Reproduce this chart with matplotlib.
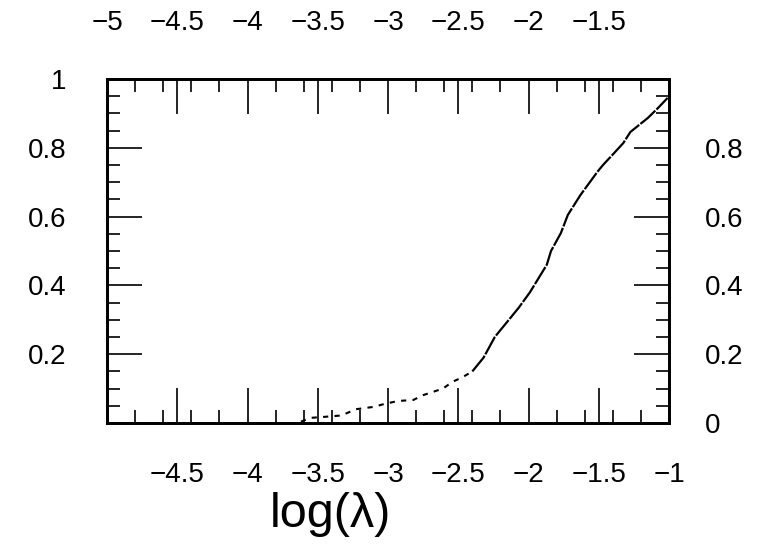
import numpy as np
import matplotlib
matplotlib.use("Agg")
import matplotlib.pyplot as plt

# curve
log_lam = [-3.62, -3.55, -3.45, -3.33, -3.23, -3.10, -3.03, -2.93, -2.82, -2.75,
           -2.61, -2.54, -2.47, -2.40, -2.32, -2.24, -2.15, -2.07, -1.99, -1.87,
           -1.84, -1.77, -1.72, -1.63, -1.51, -1.47, -1.39, -1.325, -1.275, -1.15,
           -1.08, -1.01]
frac = [0.004, 0.015, 0.018, 0.022, 0.040, 0.047, 0.055, 0.064, 0.067, 0.081,
        0.100, 0.120, 0.133, 0.150, 0.190, 0.250, 0.295, 0.335, 0.380, 0.460,
        0.500, 0.552, 0.605, 0.663, 0.730, 0.750, 0.785, 0.814, 0.846, 0.887,
        0.915, 0.945]

bottom_ticks = [-5, -4.5, -4, -3.5, -3, -2.5, -2, -1.5, -1]
bottom_labels = ['', '−4.5', '−4', '−3.5', '−3', '−2.5', '−2', '−1.5', '−1']
top_labels = ['−5', '−4.5', '−4', '−3.5', '−3', '−2.5', '−2', '−1.5', '']
y_ticks = [0, 0.2, 0.4, 0.6, 0.8, 1]
left_labels = ['', '0.2', '0.4', '0.6', '0.8', '1']
right_labels = ['0', '0.2', '0.4', '0.6', '0.8', '']

plt.rcParams['font.family'] = ['Liberation Sans', 'DejaVu Sans']

fig = plt.figure(figsize=(7.66, 5.44), dpi=100)
ax = fig.add_axes([0.1397, 0.2224, 0.7337, 0.6324])

# sparse dashes at the low end, nearly solid higher up
split = 13
ax.plot(log_lam[:split + 1], frac[:split + 1], color='black', linewidth=1.5,
        linestyle=(0, (2.5, 3)))
ax.plot(log_lam[split:], frac[split:], color='black', linewidth=1.6,
        linestyle=(0, (9, 0.7)))

ax.set_xlim(-5, -1)
ax.set_ylim(0, 1)

ax2 = ax.twiny()
ax3 = ax.twinx()
ax2.set_xlim(-5, -1)
ax3.set_ylim(0, 1)

ax.set_xticks(bottom_ticks, labels=bottom_labels)
ax.set_xticks(np.arange(-5, -0.99, 0.2), minor=True)
ax2.set_xticks(bottom_ticks, labels=top_labels)
ax2.set_xticks(np.arange(-5, -0.99, 0.2), minor=True)
ax.set_yticks(y_ticks, labels=left_labels)
ax.set_yticks(np.arange(0, 1.001, 0.05), minor=True)
ax3.set_yticks(y_ticks, labels=right_labels)
ax3.set_yticks(np.arange(0, 1.001, 0.05), minor=True)

for a in (ax, ax2, ax3):
    for s in a.spines.values():
        s.set_linewidth(1.8)
    a.tick_params(which='major', direction='in', length=25, width=1.2,
                  labelsize=20)
    a.tick_params(which='minor', direction='in', length=9.5, width=1.2)

ax.tick_params(axis='x', which='both', top=False, pad=28)
ax.tick_params(axis='y', which='both', right=False, pad=29)
ax2.tick_params(axis='x', which='both', bottom=False, pad=31)
ax3.tick_params(axis='y', which='both', left=False, pad=26)

fig.text(330 / 766, 0.055, 'log(λ)', fontsize=35, ha='center', va='center')

fig.savefig('out.png', dpi=100)
